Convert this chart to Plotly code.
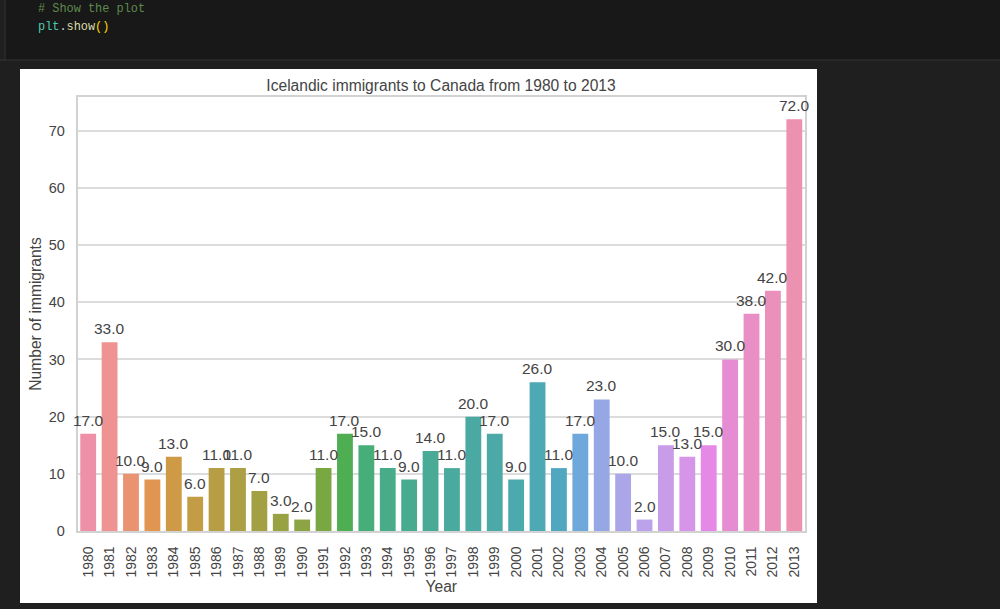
import plotly.graph_objects as go

years = [str(y) for y in range(1980, 2014)]
immigrants = [17, 33, 10, 9, 13, 6, 11, 11, 7, 3, 2, 11, 17, 15, 11, 9, 14, 11,
              20, 17, 9, 26, 11, 17, 23, 10, 2, 15, 13, 15, 30, 38, 42, 72]
bar_colors = ["#EE90A8", "#EE9292", "#EA9370", "#E09650", "#CE9A45", "#C39C46",
              "#B79E45", "#AD9F44", "#A3A044", "#98A243", "#8CA443", "#79A843",
              "#4FAE51", "#47AD79", "#48AC88", "#48AB90", "#49AA96", "#4AAA9D",
              "#4AA9A2", "#4BA9A8", "#4CA9AD", "#4DA9B4", "#4FA8C0", "#6FA8DA",
              "#95A8E5", "#ABA6E8", "#BCA2EA", "#C89CE9", "#D795E9", "#E588E6",
              "#E68CD2", "#E98FC5", "#EB90BA", "#EC91B0"]
y_ticks = [0, 10, 20, 30, 40, 50, 60, 70]

W, H = 1000, 609
FONT = "Liberation Sans"
TEXT = "#444444"
CLEAR = "rgba(0,0,0,0)"


def px(x):
    return x / W


def py(y):
    return 1 - y / H


fig = go.Figure()

fig.add_trace(
    go.Bar(
        x=years,
        y=immigrants,
        marker=dict(color=bar_colors, line=dict(width=0)),
        width=0.74,
        showlegend=False,
    )
)

# category axis: annotations take the position index, not the year string
value_labels = [
    dict(x=i, y=value, text=f"{value:.1f}", xref="x", yref="y",
         xanchor="center", yanchor="bottom", yshift=3, showarrow=False,
         font=dict(family=FONT, size=15.5, color=TEXT))
    for i, value in enumerate(immigrants)
]

fig.update_layout(
    width=W,
    height=H + 8,
    margin=dict(l=0, r=0, t=0, b=0),
    paper_bgcolor="#1f1f1f",
    plot_bgcolor="white",
    font=dict(family=FONT, color=TEXT),
    title=dict(
        text="Icelandic immigrants to Canada from 1980 to 2013",
        x=px(441),
        xanchor="center",
        y=py(84),
        yanchor="middle",
        font=dict(family=FONT, size=15.6, color=TEXT),
    ),
    xaxis=dict(
        domain=[px(77.5), px(805)],
        type="category",
        range=[-0.5, 33.5],
        tickangle=-90,
        tickfont=dict(size=14, color=TEXT),
        ticks="outside",
        ticklen=8,
        tickcolor=CLEAR,
        showgrid=False,
        showline=True,
        linecolor="#d2d2d2",
        linewidth=1.5,
        mirror=True,
        title=dict(text="Year", font=dict(size=15.6, color=TEXT), standoff=1),
    ),
    yaxis=dict(
        domain=[py(531), py(97)],
        range=[0, 75.9],
        tickvals=y_ticks,
        tickfont=dict(size=14.5, color=TEXT),
        ticks="outside",
        ticklen=8,
        tickcolor=CLEAR,
        gridcolor="#dcdcdc",
        gridwidth=1.5,
        zeroline=False,
        showline=True,
        linecolor="#d2d2d2",
        linewidth=1.5,
        mirror=True,
        title=dict(text="Number of immigrants", font=dict(size=15.6, color=TEXT), standoff=3),
    ),
    shapes=[
        # notebook cell above the output
        dict(type="rect", xref="paper", yref="paper", layer="below",
             x0=px(-5), x1=px(1005), y0=py(-5), y1=py(60),
             fillcolor="#181818", line=dict(color="#333333", width=1)),
        dict(type="rect", xref="paper", yref="paper", layer="below",
             x0=px(-5), x1=px(5), y0=py(-5), y1=py(60),
             fillcolor="#1f1f1f", line=dict(color="#333333", width=1)),
        # white output image
        dict(type="rect", xref="paper", yref="paper", layer="below",
             x0=px(20), x1=px(817), y0=py(69), y1=py(603),
             fillcolor="white", line=dict(width=0)),
    ],
    annotations=value_labels + [
        dict(text="<span style='color:#5f8a4c'># Show the plot</span>",
             xref="paper", yref="paper", x=px(36), y=py(9),
             xanchor="left", yanchor="middle", showarrow=False,
             font=dict(family="Liberation Mono", size=11.9)),
        dict(text="<span style='color:#4ec9b0'>plt</span>"
                  "<span style='color:#cccccc'>.</span>"
                  "<span style='color:#dcdcaa'>show</span>"
                  "<span style='color:#ffd700'>()</span>",
             xref="paper", yref="paper", x=px(36), y=py(27),
             xanchor="left", yanchor="middle", showarrow=False,
             font=dict(family="Liberation Mono", size=11.9)),
    ],
)

fig.write_html(
    "out.html",
    config=dict(displayModeBar=False, responsive=False),
    post_script="document.body.style.margin='0';document.body.style.background='#1f1f1f';",
)
